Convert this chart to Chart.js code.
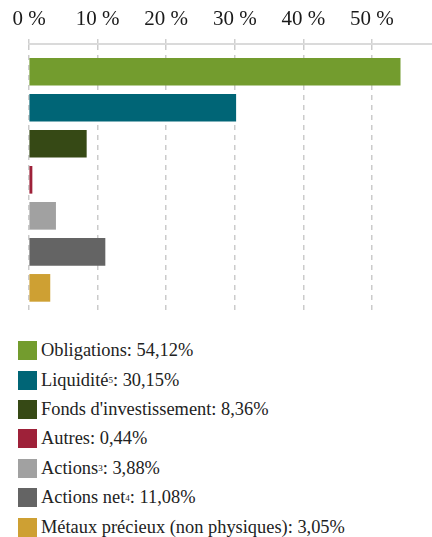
<!DOCTYPE html>
<html>
<head>
<meta charset="utf-8">
<script src="https://cdn.jsdelivr.net/npm/chart.js@4.4.1/dist/chart.umd.min.js"></script>
<style>
	body { margin: 0; background: #fff; font-family: "Liberation Serif", "Times New Roman", "DejaVu Serif", serif; }
	#wrap { position: relative; width: 432px; height: 312px; }
	#legend { list-style: none; margin: 0; padding: 24px 0 0 18px; }
	#legend li { display: flex; align-items: center; height: 29.4px; font-size: 18.4px; color: #222; white-space: nowrap; }
	#legend .legendColor { display: inline-block; width: 19px; height: 19px; margin-right: 4px; flex: none; }
	#legend sup { font-size: 9px; vertical-align: 6px; line-height: 0; }
</style>
</head>
<body>
<div id="wrap"><canvas id="myChart"></canvas></div>
<ul id="legend"></ul>
<script>
// asset classes, in the order the bars are stacked top to bottom
var categories = ['Obligations', 'Liquidité', "Fonds d'investissement", 'Autres', 'Actions', 'Actions net', 'Métaux précieux (non physiques)'];
var footnotes = ['', '5', '', '', '3', '4', ''];
var shares = [54.12, 30.15, 8.36, 0.44, 3.88, 11.08, 3.05];
var colors = ['#739c2e', '#006576', '#364915', '#9e2139', '#a1a1a1', '#646464', '#cea033'];
var xTicks = [0, 10, 20, 30, 40, 50];

var serif = "'Liberation Serif', 'Times New Roman', 'DejaVu Serif', serif";

var chartTool = {
	chartId: 'myChart',
	chart: undefined,
	formatShare: function(v) {
		return v.toFixed(2).replace('.', ',') + '%';
	},
	createDisplay: function() {
		var ctx = document.getElementById(this.chartId).getContext('2d');
		var points = shares.map(function(v, i) { return {x: v, y: i}; });

		this.chart = new Chart(ctx, {
			type: 'bar',
			data: {
				datasets: [{
					data: points,
					backgroundColor: colors,
					borderWidth: 0,
					barThickness: 27
				}]
			},
			options: {
				indexAxis: 'y',
				animation: false,
				responsive: true,
				maintainAspectRatio: false,
				layout: { padding: { left: 29, right: 0, top: 0, bottom: 0 } },
				plugins: { legend: { display: false }, tooltip: { enabled: false } },
				scales: {
					x: {
						position: 'top',
						min: 0,
						max: 58.76,
						afterBuildTicks: function(scale) {
							scale.ticks = xTicks.map(function(v) { return {value: v}; });
						},
						ticks: {
							padding: 9,
							color: '#1a1a1a',
							font: { family: serif, size: 21, lineHeight: 1 },
							callback: function(v) { return v + ' %'; }
						},
						grid: {
							color: '#cbcbcb',
							lineWidth: 1.5,
							tickLength: 5,
							tickColor: '#cfcfcf'
						},
						border: { color: '#dadada', width: 2, dash: [5, 5] }
					},
					y: {
						type: 'linear',
						reverse: true,
						offset: false,
						grid: { offset: false },
						min: -0.77,
						max: 6.67,
						display: false
					}
				}
			}
		});
	},
	updateLegend: function() {
		var html = '';
		for (var i = 0; i < categories.length; i++) {
			html += '<li>' +
				'<span class="legendColor" style="background-color:' + colors[i] + '"></span>' +
				categories[i] +
				(footnotes[i] ? '<sup>' + footnotes[i] + '</sup>' : '') +
				': ' + this.formatShare(shares[i]) +
				'</li>';
		}
		document.getElementById('legend').innerHTML = html;
	}
};

chartTool.createDisplay();
chartTool.updateLegend();
</script>
</body>
</html>
